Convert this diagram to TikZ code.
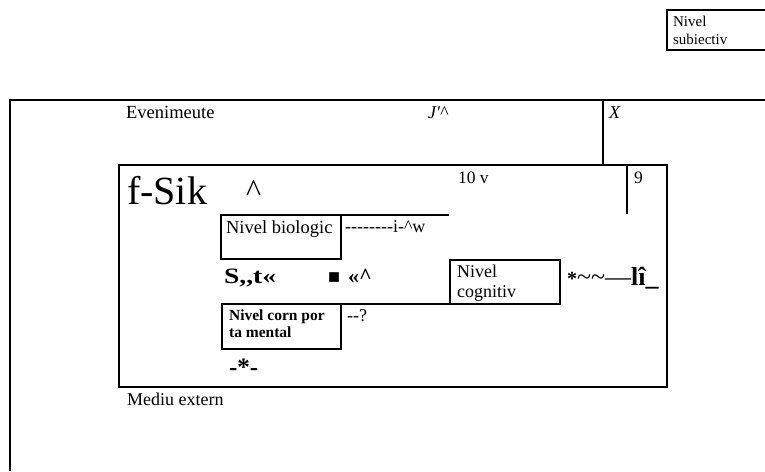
\documentclass[tikz,border=0pt]{standalone}
\usepackage{fontspec}
\setmainfont{Liberation Serif}[Ligatures=TeXOff]
\newcommand{\fs}[1]{\fontsize{#1}{#1}\selectfont}
\begin{document}
\begin{tikzpicture}[x=1pt,y=-1pt,line width=2.2pt,
  boxn/.style={draw,inner sep=0pt,outer sep=0pt,anchor=north west},
  lbl/.style={inner sep=0pt,anchor=base west,font=\fs{18}}]
\useasboundingbox (0,0) rectangle (765,471);
% outer frame (mediu extern)
\coordinate (oBL) at (10,471);
\coordinate (oTL) at (10,100);
\coordinate (oTR) at (766,100);
\draw (oBL) -- (oTL) -- (oTR);
% nivel subiectiv box
\node[boxn,minimum width=120pt,minimum height=40pt] (subj) at (667,10) {};
\node[lbl,font=\fs{15}] (subjt1) at (672,26) {Nivel};
\node[lbl,font=\fs{15}] (subjt2) at (672,44) {subiectiv};
% inner frame
\node[boxn,minimum width=548pt,minimum height=222pt] (inner) at (119,165) {};
\coordinate (vX) at (603,100);
\draw (vX) -- (vX |- inner.north);
\coordinate (v9a) at (627,165);
\coordinate (v9b) at (627,214);
\draw (v9a) -- (v9b);
% texts in outer frame
\node[lbl,font=\fs{18.5}] (even) at (125,118) {Evenimeute};
\node[lbl,font=\fs{18}\itshape] (jp) at (427,118) {J'\textasciicircum};
\node[lbl,font=\fs{18}\itshape] (xx) at (608,118) {X};
\node[lbl,font=\fs{18}] (mediu) at (126,405) {Mediu extern};
% texts in inner frame
\node[lbl,font=\fs{40}] (fsik) at (126,204) {f-Sik};
\node[lbl,font=\fs{32}] (caret) at (245,201) {\textasciicircum};
\node[lbl,font=\fs{17.5}] (tenv) at (457,183) {10 v};
\node[lbl,font=\fs{17.5}] (nine) at (633,183) {9};
% nivel biologic
\node[boxn,minimum width=120pt,minimum height=44pt] (bio) at (221,215) {};
\coordinate (bioExt) at (449,215);
\draw (bio.north east) -- (bioExt);
\node[lbl,font=\fs{18.5}] (biot) at (225,233) {Nivel biologic};
\node[lbl,font=\fs{18}] (biodash) at (344,232) {--------i-\textasciicircum w};
% middle row
\node[lbl,font=\fs{22}\bfseries] (st) at (223,283) {\scalebox{1.25}[1]{S,,t«}};
\node[lbl,font=\fs{20}\bfseries] (sq) at (327,283) {■};
\node[lbl,font=\fs{22}\bfseries] (gq) at (347,283) {«\textasciicircum};
% nivel cognitiv
\node[boxn,minimum width=110pt,minimum height=44pt] (cog) at (450,260) {};
\node[lbl] (cogt1) at (456,277) {Nivel};
\node[lbl] (cogt2) at (456,297) {cognitiv};
\node[lbl,font=\fs{26}] (arr) at (566,285) {{\fs{20}\bfseries *}\textasciitilde\textasciitilde—{\bfseries lî\_}};
% nivel comportamental
\node[boxn,minimum width=119pt,minimum height=45pt] (corn) at (222,304) {};
\draw (corn.north east) -- (cog.south west);
\node[lbl,font=\fs{15.5}\bfseries] (cornt1) at (228,320) {Nivel corn por};
\node[lbl,font=\fs{15.5}\bfseries] (cornt2) at (228,337) {ta mental};
\node[lbl] (q) at (346,321) {--?};
\node[lbl,font=\fs{25}\bfseries] (star) at (228,375) {-*-};
\end{tikzpicture}
\end{document}
